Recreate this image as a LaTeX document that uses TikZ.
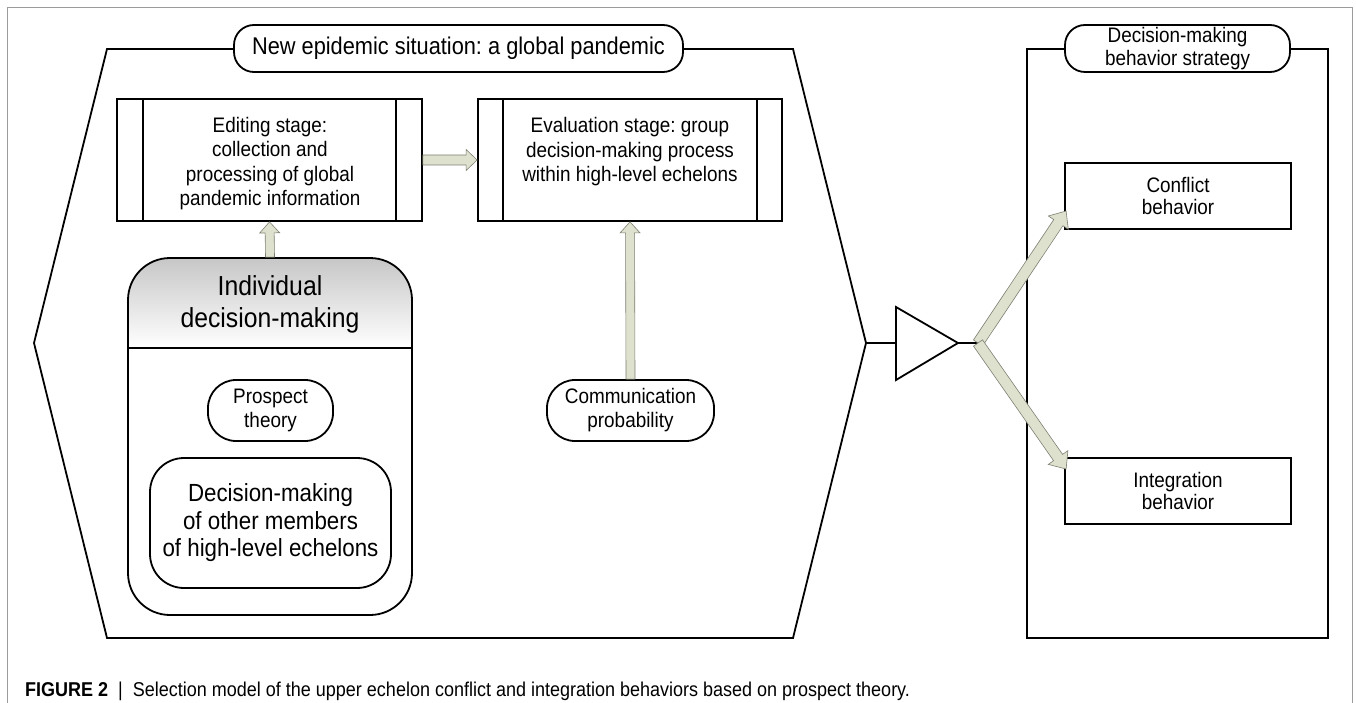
\documentclass[tikz,border=0pt]{standalone}
\usepackage{fontspec}
\setmainfont{Liberation Sans}[FakeStretch=0.9]
\usetikzlibrary{calc}
\frenchspacing
\definecolor{arrfill}{RGB}{221,225,205}
\definecolor{arrline}{RGB}{125,128,115}
\definecolor{framegray}{RGB}{155,155,155}
\newcommand\fatarrow[5]{%
  \draw[fatstyle] let \p1=($(#2)-(#1)$), \n1={atan2(\y1,\x1)}, \n2={veclen(\x1,\y1)} in
    [shift={(#1)}, rotate=\n1]
    (0pt,-#3) -- ({\n2-#5},-#3) -- ({\n2-#5},-#4) -- (\n2,0pt)
    -- ({\n2-#5},#4) -- ({\n2-#5},#3) -- (0pt,#3) -- cycle;}
\begin{document}
\frenchspacing
\begin{tikzpicture}[x=1pt,y=-1pt,
  lw/.style={line width=1.8pt},
  fatstyle/.style={draw=arrline, fill=arrfill, line width=0.6pt, line join=miter},
  stagebox/.style={draw, lw, fill=white, inner sep=0pt, minimum width=305pt, minimum height=122pt},
  pillbox/.style={draw, lw, fill=white, inner sep=0pt, rounded corners=#1},
  plainbox/.style={draw, lw, fill=white, inner sep=0pt, align=center},
  ftx/.style={font=\fontsize{21}{23.5}\selectfont, align=center, inner sep=0pt},
]
\useasboundingbox (0,0) rectangle (1356,703);
% outer gray frame
\draw[framegray, line width=1pt] (7.5,712) -- (7.5,7.5) -- (1352.5,7.5) -- (1352.5,712);

% hexagon container
\coordinate (hexR) at (866,343);
\draw[lw, line join=miter] (107,49) -- (793,49) -- (hexR) -- (793,638) -- (107,638) -- (34,343) -- cycle;
% right container
\draw[lw] (1027,49) rectangle (1328,638);

% title pills
\node[pillbox=20pt, minimum width=449pt, minimum height=47pt, font=\fontsize{24.2}{28}\selectfont] (title) at (458.5,48.5) {New epidemic situation: a global pandemic};
\node[pillbox=20pt, minimum width=225pt, minimum height=47pt, ftx, font=\fontsize{21}{23}\selectfont] (strat) at (1177.5,48.5) {Decision-making\\behavior strategy};

% stage boxes
\node[stagebox] (ed) at (269.5,160) {};
\node[stagebox, minimum width=304pt] (ev) at (630,160) {};
\draw[lw] ([xshift=27pt]ed.north west) -- ([xshift=27pt]ed.south west);
\draw[lw] ([xshift=-27pt]ed.north east) -- ([xshift=-27pt]ed.south east);
\draw[lw] ([xshift=26pt]ev.north west) -- ([xshift=26pt]ev.south west);
\draw[lw] ([xshift=-26pt]ev.north east) -- ([xshift=-26pt]ev.south east);
\node[ftx, font=\fontsize{21}{24.5}\selectfont] (edtxt) at (270,163.5) {Editing stage:\\collection and\\processing of global\\pandemic information};
\node[ftx, font=\fontsize{21}{24.5}\selectfont] (evtxt) at (630,152) {Evaluation stage: group\\decision-making process\\within high-level echelons};

% individual decision-making container
\begin{scope}
  \clip[rounded corners=42pt] (128,258) rectangle (412,615);
  \shade[top color=black!22, bottom color=white] (128,258) rectangle (412,348);
\end{scope}
\node[draw, lw, rounded corners=42pt, minimum width=284pt, minimum height=357pt, inner sep=0pt] (ind) at (270,436.5) {};
\draw[lw] (ind.west |- 0,348) -- (ind.east |- 0,348);
\node[ftx, font=\fontsize{27.5}{32}\selectfont] (indtxt) at (270,304) {Individual\\decision-making};
\node[pillbox=28pt, minimum width=125pt, minimum height=61pt, ftx, font=\fontsize{21}{24}\selectfont] (pros) at (270.5,410.5) {Prospect\\theory};
\node[pillbox=34pt, minimum width=241pt, minimum height=130pt, ftx, font=\fontsize{24.8}{27.5}\selectfont] (oth) at (270.5,523) {Decision-making\\of other members\\of high-level echelons};
\node[pillbox=28pt, minimum width=167pt, minimum height=61pt, ftx, font=\fontsize{21}{24}\selectfont] (com) at (630.5,410.5) {Communication\\probability};

% triangle selector
\coordinate (triL) at (896,343);
\coordinate (triR) at (958,343);
\coordinate (split) at (978,343);
\draw[lw, line join=miter] (896,307) -- (triR) -- (896,380) -- cycle;
\draw[lw] (hexR) -- (triL);
\draw[lw] (triR) -- (split);

% behaviour boxes
\node[plainbox, minimum width=226pt, minimum height=66pt, font=\fontsize{21}{22.5}\selectfont] (cf) at (1178,196) {Conflict\\behavior};
\node[plainbox, minimum width=226pt, minimum height=66pt, font=\fontsize{21}{22.5}\selectfont] (ig) at (1178,491) {Integration\\behavior};
\coordinate (cftip) at ($(cf.west)+(2,15)$);
\coordinate (igtip) at ($(ig.west)+(2,-22)$);

% fat arrows
\fatarrow{ed.east}{ev.west}{5pt}{10.5pt}{11pt}
\fatarrow{ind.north}{ed.south}{4.5pt}{10pt}{11pt}
\fatarrow{com.north}{ev.south}{4.5pt}{10pt}{11pt}
\fatarrow{split}{cftip}{5.5pt}{12pt}{14pt}
\fatarrow{split}{igtip}{5.5pt}{12pt}{14pt}

% caption
\node[anchor=base west, inner sep=0pt, font=\fontsize{20}{24}\selectfont] (cap) at (25,696) {\textbf{FIGURE 2}\hspace{0.5em}|\hspace{0.5em}Selection model of the upper echelon conflict and integration behaviors based on prospect theory.};
\end{tikzpicture}
\end{document}
